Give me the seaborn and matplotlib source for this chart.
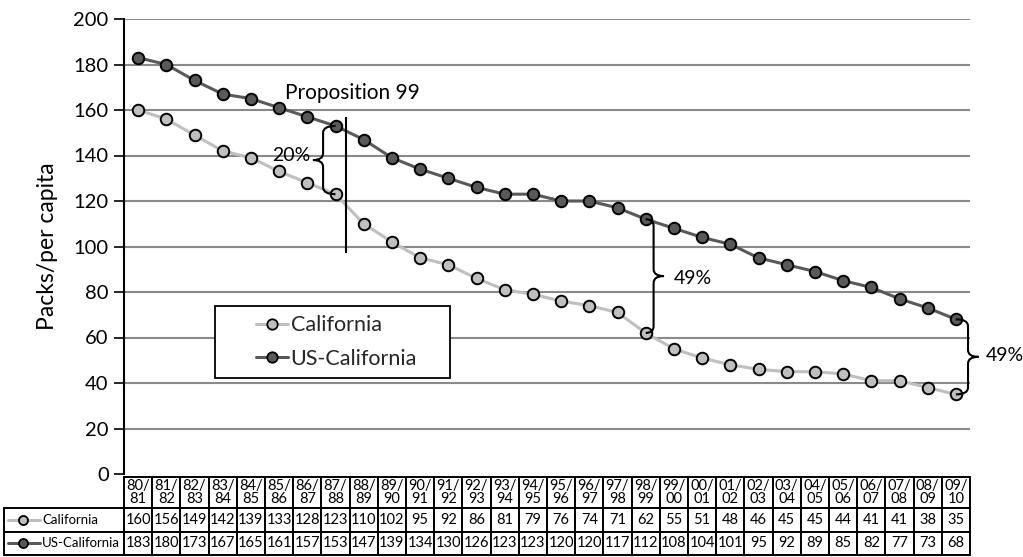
import numpy as np
import pandas as pd
import matplotlib
matplotlib.use("Agg")
import matplotlib.pyplot as plt
import seaborn as sns
from matplotlib.path import Path
from matplotlib.patches import PathPatch, Rectangle
from matplotlib.table import Table
from matplotlib.lines import Line2D

# ---------------- data ----------------
years = ['80/81', '81/82', '82/83', '83/84', '84/85', '85/86', '86/87', '87/88',
         '88/89', '89/90', '90/91', '91/92', '92/93', '93/94', '94/95', '95/96',
         '96/97', '97/98', '98/99', '99/00', '00/01', '01/02', '02/03', '03/04',
         '04/05', '05/06', '06/07', '07/08', '08/09', '09/10']
california = [160, 156, 149, 142, 139, 133, 128, 123, 110, 102, 95, 92, 86, 81, 79,
              76, 74, 71, 62, 55, 51, 48, 46, 45, 45, 44, 41, 41, 38, 35]
us_california = [183, 180, 173, 167, 165, 161, 157, 153, 147, 139, 134, 130, 126, 123, 123,
                 120, 120, 117, 112, 108, 104, 101, 95, 92, 89, 85, 82, 77, 73, 68]
series_names = ['California', 'US-California']
y_ticks = [0, 20, 40, 60, 80, 100, 120, 140, 160, 180, 200]

colors = {'California': '#bfbfbf', 'US-California': '#595959'}

# ---------------- style ----------------
sns.set_theme(style="white")
plt.rcParams['font.family'] = ['Lato', 'DejaVu Sans']

W, H = 1023, 557
fig = plt.figure(figsize=(W / 100, H / 100), dpi=100)
ax_l, ax_r, ax_t, ax_b = 124, 970, 19, 474
ax = fig.add_axes([ax_l / W, (H - ax_b) / H, (ax_r - ax_l) / W, (ax_b - ax_t) / H])
axw, axh = ax_r - ax_l, ax_b - ax_t

df = pd.DataFrame({
    'pos': list(range(len(years))) * 2,
    'packs': california + us_california,
    'series': [series_names[0]] * len(years) + [series_names[1]] * len(years),
})

sns.lineplot(data=df, x='pos', y='packs', hue='series', style='series',
             palette=colors, markers={'California': 'o', 'US-California': 'o'},
             dashes=False, markersize=8.3, markeredgecolor='black',
             markeredgewidth=1.4, linewidth=2.2, legend=False, ax=ax, zorder=3)

ax.set_xlim(-0.5, len(years) - 0.5)
ax.set_ylim(0, 200)
ax.set_yticks(y_ticks)
ax.set_xticks([])
ax.set_xlabel('')
ax.set_ylabel('Packs/per capita', fontsize=16.5, labelpad=11, color='black')
ax.tick_params(axis='y', length=7, width=1.2, color='black', direction='out',
               labelsize=14.5, labelcolor='black', left=True, pad=4)
ax.grid(axis='y', color='#8a8a8a', linewidth=1.5)
ax.grid(axis='x', visible=False)
for s in ['top', 'right', 'bottom']:
    ax.spines[s].set_visible(False)
ax.spines['left'].set_color('black')
ax.spines['left'].set_linewidth(1.5)
ax.set_axisbelow(True)
fig.canvas.draw()
ax.yaxis.get_gridlines()[0].set_visible(False)

# ---------------- annotations ----------------
ax.vlines(7.37, 97, 157, color='black', linewidth=1.5, zorder=4)
ax.text(5.2, 167.5, 'Proposition 99', fontsize=15, ha='left', va='center', color='black')


def brace(x_end, x_spine, x_tip, y0, y1, r):
    ym = (y0 + y1) / 2
    verts = [(x_end, y1), (x_spine, y1), (x_spine, y1 - r),
             (x_spine, ym + r), (x_spine, ym), (x_tip, ym),
             (x_spine, ym), (x_spine, ym - r),
             (x_spine, y0 + r), (x_spine, y0), (x_end, y0)]
    codes = [Path.MOVETO, Path.CURVE3, Path.CURVE3,
             Path.LINETO, Path.CURVE3, Path.CURVE3,
             Path.CURVE3, Path.CURVE3,
             Path.LINETO, Path.CURVE3, Path.CURVE3]
    ax.add_patch(PathPatch(Path(verts, codes), fill=False, edgecolor='black',
                           linewidth=1.5, clip_on=False, zorder=5))


brace(7.0, 6.56, 6.2, california[7], us_california[7], 3)
ax.text(6.1, 140, '20%', fontsize=14, ha='right', va='center', color='black')
brace(18.0, 18.28, 18.65, california[18], us_california[18], 3)
ax.text(18.98, 86, '49%', fontsize=14, ha='left', va='center', color='black')
brace(29.0, 29.43, 29.8, california[29], us_california[29], 3)
ax.text(30.05, 52, '49%', fontsize=14, ha='left', va='center', color='black',
        clip_on=False)

# ---------------- legend ----------------
bx0, bx1, by0, by1 = 215, 450, 306, 378
ax.add_patch(Rectangle(((bx0 - ax_l) / axw, (ax_b - by1) / axh),
                       (bx1 - bx0) / axw, (by1 - by0) / axh,
                       transform=ax.transAxes, facecolor='white',
                       edgecolor='black', linewidth=1.3, zorder=6))
handles = [Line2D([], [], color=colors[n], marker='o', markerfacecolor=colors[n],
                  markeredgecolor='black', markeredgewidth=1.3, markersize=7.5,
                  linewidth=2.2) for n in series_names]
leg = ax.legend(handles, series_names, loc='center', frameon=False,
                bbox_to_anchor=(((bx0 + bx1) / 2 + 4 - ax_l) / axw,
                                (ax_b - (by0 + by1) / 2) / axh),
                fontsize=15.5, handlelength=1.5, handletextpad=0.1,
                labelspacing=0.62)
leg.set_zorder(7)

# ---------------- data table ----------------
t_left, t_right, t_top, t_bot = 4, 970, 477, 555
row_h = [31, 23.5, 23.5]
lab_w = (ax_l - t_left) / axw
cw = 1.0 / len(years)
# bbox covers the data cells only; the row-label column extends to the left
tab = Table(ax, bbox=[0, (ax_b - t_bot) / axh, 1, (t_bot - t_top) / axh])
tab.auto_set_font_size(False)
rows = [[y.replace('/', '/\n') for y in years],
        [str(v) for v in california],
        [str(v) for v in us_california]]
for i, row in enumerate(rows):
    for j, txt in enumerate(row):
        c = tab.add_cell(i, j, width=cw, height=row_h[i], text=txt, loc='center',
                         edgecolor='black')
        c.set_linewidth(1.4)
        c.get_text().set_fontsize(10.5)
        c.get_text().set_linespacing(0.95)
        c.get_text().set_color('black')
# row labels
c = tab.add_cell(0, -1, width=lab_w, height=row_h[0], text='', edgecolor='black')
c.visible_edges = 'open'
for i, name in enumerate(series_names, start=1):
    c = tab.add_cell(i, -1, width=lab_w, height=row_h[i], text=name, loc='left',
                     edgecolor='black')
    c.PAD = 38 / (ax_l - t_left)
    c.set_linewidth(1.4)
    c.get_text().set_fontsize(9.5)
    c.get_text().set_color('black')
ax.add_table(tab)

# legend keys in the row labels
y_center_px = [t_top + row_h[0] + row_h[1] / 2, t_top + row_h[0] + row_h[1] + row_h[2] / 2]
for name, ypx in zip(series_names, y_center_px):
    ya = (ax_b - ypx) / axh
    ax.plot([(8 - ax_l) / axw, (40 - ax_l) / axw], [ya, ya], transform=ax.transAxes,
            color=colors[name], linewidth=2.2, clip_on=False, zorder=8)
    ax.plot([(23 - ax_l) / axw], [ya], transform=ax.transAxes, marker='o',
            markersize=6.5, markerfacecolor=colors[name], markeredgecolor='black',
            markeredgewidth=1.3, clip_on=False, zorder=9)

fig.savefig('out.png', dpi=100, facecolor='white')
